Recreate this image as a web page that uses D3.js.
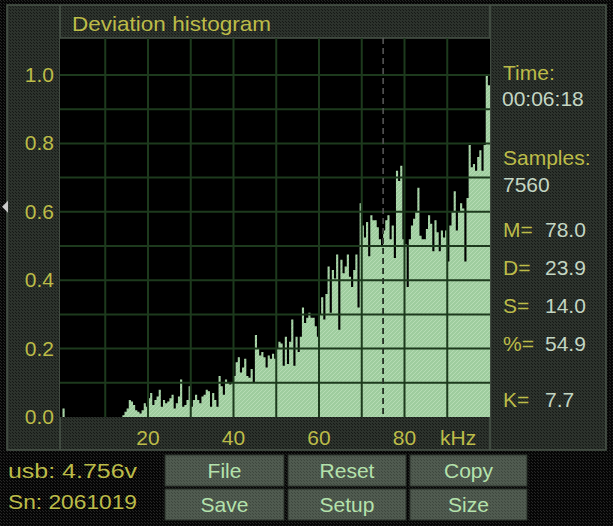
<!DOCTYPE html>
<html><head><meta charset="utf-8">
<script src="https://cdn.jsdelivr.net/npm/d3@7/dist/d3.min.js"></script>
<style>html,body{margin:0;padding:0;background:#050505;overflow:hidden}</style>
</head><body>
<script>
// ---- data ----
const title = "Deviation histogram";
const binWidth = 0.5; // kHz
const histValues = [
0.025,0,0,0,0,0,0,0,0,0,
0,0,0,0,0,0,0,0,0,0,
0,0,0,0,0,0,0,0,0.005,0.015,
0.025,0.05,0.045,0.035,0.02,0.015,0.01,0.02,0.04,0.03,
0.055,0.07,0.035,0.05,0.06,0.08,0.03,0.05,0.04,0.045,
0.055,0.065,0.025,0.04,0.06,0.11,0.03,0.035,0.05,0.09,
0.03,0.05,0.065,0.05,0.04,0.06,0.065,0.08,0.075,0.03,
0.07,0.05,0.03,0.12,0.09,0.065,0.11,0.1,0.095,0.1,
0.12,0.16,0.175,0.13,0.145,0.17,0.12,0.115,0.14,0.1,
0.24,0.2,0.18,0.19,0.175,0.145,0.18,0.17,0.185,0.17,
0.2,0.22,0.215,0.15,0.235,0.155,0.22,0.285,0.15,0.235,
0.19,0.235,0.32,0.275,0.29,0.305,0.29,0.29,0.265,0.235,
0.3,0.35,0.285,0.36,0.44,0.305,0.43,0.405,0.475,0.255,
0.46,0.42,0.44,0.475,0.41,0.38,0.43,0.475,0.32,0.625,
0.56,0.525,0.57,0.47,0.59,0.575,0.575,0.555,0.52,0.5,
0.545,0.575,0.59,0.52,0.56,0.465,0.72,0.69,0.735,0.52,
0.505,0.38,0.52,0.56,0.58,0.6,0.67,0.53,0.52,0.52,
0.55,0.59,0.565,0.485,0.575,0.54,0.485,0.545,0.525,0.545,
0.455,0.56,0.6,0.66,0.545,0.6,0.625,0.61,0.455,0.64,
0.795,0.73,0.74,0.72,0.76,0.78,0.72,0.795,1.0,0.97
];
const xDomain = [0, 100];
const yDomain = [0, 1];
const xTickValues = [20, 40, 60, 80];
const xUnit = "kHz";
const yTickValues = [0, 0.2, 0.4, 0.6, 0.8, 1.0];
const xGridValues = [10, 20, 30, 40, 50, 60, 70, 80, 90];
const yGridValues = [0.1, 0.2, 0.3, 0.4, 0.5, 0.6, 0.7, 0.8, 0.9, 1.0];
const markerValue = 75; // dashed marker (kHz)
const timeLabel = "Time:", timeValue = "00:06:18";
const samplesLabel = "Samples:", samplesValue = "7560";
const statLabels = ["M=", "D=", "S=", "%=", "K="];
const statValues = ["78.0", "23.9", "14.0", "54.9", "7.7"];
const infoLines = ["usb: 4.756v", "Sn: 2061019"];
const buttonLabels = [["File", "Reset", "Copy"], ["Save", "Setup", "Size"]];

// ---- drawing ----
const W = 613, H = 526;
const YELLOW = "#bcbc48", LIGHT = "#c3d6c3", BTN_TXT = "#b4e2ac";
const FONT = "'Liberation Sans', Arial, sans-serif";
const svg = d3.select("body").append("svg").attr("width", W).attr("height", H);
const defs = svg.append("defs");

function dotPattern(id, base, dot, size) {
  const p = defs.append("pattern").attr("id", id).attr("patternUnits", "userSpaceOnUse")
    .attr("width", size).attr("height", size);
  p.append("rect").attr("width", size).attr("height", size).attr("fill", base);
  p.append("rect").attr("width", 1).attr("height", 1).attr("fill", dot);
  p.append("rect").attr("x", Math.floor(size/2)).attr("y", Math.floor(size/2)).attr("width", 1).attr("height", 1).attr("fill", dot);
}
dotPattern("bgDots", "#060606", "#262626", 3);
dotPattern("panelDots", "#2c322c", "#161916", 3);
dotPattern("btnDots", "#505b50", "#3e473e", 3);
const hp = defs.append("pattern").attr("id", "hatch").attr("patternUnits", "userSpaceOnUse")
  .attr("width", 4).attr("height", 4);
hp.append("rect").attr("width", 4).attr("height", 4).attr("fill", "#9fcd9f");
hp.append("path").attr("d", "M0,4 L4,0 M-1,1 L1,-1 M3,5 L5,3").attr("stroke", "#b6dcb4").attr("stroke-width", 1);

// background
svg.append("rect").attr("width", W).attr("height", H).attr("fill", "url(#bgDots)");
// main panel
svg.append("rect").attr("x", 7).attr("y", 5).attr("width", 599).attr("height", 445)
  .attr("fill", "url(#panelDots)").attr("stroke", "#4a564a").attr("stroke-width", 1.5);

const plot = {left: 60, right: 490, top: 38, bottom: 417};
const x = d3.scaleLinear().domain(xDomain).range([62.5, 490]);
const y = d3.scaleLinear().domain(yDomain).range([417, 75]);

// dividers
svg.append("line").attr("x1", plot.left).attr("x2", plot.left).attr("y1", 5).attr("y2", 450).attr("stroke", "#4a564a").attr("stroke-width", 1.5);
svg.append("line").attr("x1", plot.right).attr("x2", plot.right).attr("y1", 5).attr("y2", 450).attr("stroke", "#4a564a").attr("stroke-width", 1.5);

// plot background
svg.append("rect").attr("x", plot.left).attr("y", plot.top).attr("width", plot.right - plot.left)
  .attr("height", plot.bottom - plot.top).attr("fill", "#000");
svg.append("line").attr("x1", plot.left).attr("x2", plot.right).attr("y1", plot.top).attr("y2", plot.top).attr("stroke", "#4a564a").attr("stroke-width", 1.5);

const clip = defs.append("clipPath").attr("id", "plotClip");
clip.append("rect").attr("x", plot.left).attr("y", plot.top).attr("width", plot.right - plot.left).attr("height", plot.bottom - plot.top);

// histogram as step area
const pts = histValues.map((v, i) => [i * binWidth, v]);
pts.push([histValues.length * binWidth, histValues[histValues.length - 1]]);
const area = d3.area().curve(d3.curveStepAfter).x(d => x(d[0])).y0(y(0)).y1(d => y(d[1]));
const g = svg.append("g").attr("clip-path", "url(#plotClip)");
g.append("path").attr("d", area(pts)).attr("fill", "url(#hatch)");
const histClip = defs.append("clipPath").attr("id", "histClip");
histClip.append("path").attr("d", area(pts));

// grid
g.selectAll("line.vg").data(xGridValues).join("line").attr("class", "vg")
  .attr("x1", d => x(d)).attr("x2", d => x(d)).attr("y1", plot.top).attr("y2", plot.bottom)
  .attr("stroke", "#1d3a1d").attr("stroke-width", 2);
g.selectAll("line.hg").data(yGridValues).join("line").attr("class", "hg")
  .attr("x1", plot.left).attr("x2", plot.right).attr("y1", d => y(d)).attr("y2", d => y(d))
  .attr("stroke", "#1d3a1d").attr("stroke-width", 2);

// dashed marker
g.append("line").attr("x1", x(markerValue)).attr("x2", x(markerValue)).attr("y1", plot.top).attr("y2", plot.bottom)
  .attr("stroke", "#5a5a5a").attr("stroke-width", 1.5).attr("stroke-dasharray", "6,4");
svg.append("g").attr("clip-path", "url(#histClip)").append("line")
  .attr("x1", x(markerValue)).attr("x2", x(markerValue)).attr("y1", plot.top).attr("y2", plot.bottom)
  .attr("stroke", "#1a2a1a").attr("stroke-width", 1.5).attr("stroke-dasharray", "6,4");

// title
svg.append("text").attr("x", 72).attr("y", 31).attr("fill", YELLOW).attr("font-family", FONT)
  .attr("font-size", 21).attr("textLength", 199).attr("lengthAdjust", "spacingAndGlyphs").text(title);

// y ticks
svg.selectAll("text.yt").data(yTickValues).join("text").attr("class", "yt")
  .attr("x", 54).attr("y", d => y(d) + 7).attr("text-anchor", "end")
  .attr("fill", YELLOW).attr("font-family", FONT).attr("font-size", 21).text(d => d3.format(".1f")(d));
// x ticks
svg.selectAll("text.xt").data(xTickValues).join("text").attr("class", "xt")
  .attr("x", d => x(d)).attr("y", 445).attr("text-anchor", "middle")
  .attr("fill", YELLOW).attr("font-family", FONT).attr("font-size", 21).text(d => d);
svg.append("text").attr("x", 440).attr("y", 445).attr("fill", YELLOW).attr("font-family", FONT)
  .attr("font-size", 21).text(xUnit);

// left marker triangle
svg.append("path").attr("d", `M2,${y(0.6)-5} L8,${y(0.6)-11} L8,${y(0.6)+1} Z`).attr("fill", "#c8c8c8");

// right panel
const rp = svg.append("g").attr("font-family", FONT).attr("font-size", 21);
rp.append("text").attr("x", 503).attr("y", 80).attr("fill", YELLOW).text(timeLabel);
rp.append("text").attr("x", 502).attr("y", 106).attr("fill", LIGHT).text(timeValue);
rp.append("text").attr("x", 503).attr("y", 165).attr("fill", YELLOW).text(samplesLabel);
rp.append("text").attr("x", 503).attr("y", 192).attr("fill", LIGHT).text(samplesValue);
const statY = [237, 275, 313, 351, 407];
statLabels.forEach((l, i) => {
  rp.append("text").attr("x", 503).attr("y", statY[i]).attr("fill", YELLOW).text(l);
  rp.append("text").attr("x", 545).attr("y", statY[i]).attr("fill", LIGHT).text(statValues[i]);
});

// info lines
infoLines.forEach((t, i) => {
  svg.append("text").attr("x", 8).attr("y", 478 + i * 31).attr("fill", YELLOW).attr("font-family", FONT)
    .attr("font-size", 20).attr("textLength", 129).attr("lengthAdjust", "spacingAndGlyphs").text(t);
});

// buttons
const btnX = [165, 288, 410], btnW = [119, 118, 117], btnY = [455, 489], btnH = 31;
buttonLabels.forEach((row, r) => row.forEach((lab, c) => {
  svg.append("rect").attr("x", btnX[c]).attr("y", btnY[r]).attr("width", btnW[c]).attr("height", btnH)
    .attr("fill", "url(#btnDots)").attr("stroke", "#2a322a").attr("stroke-width", 1);
  svg.append("text").attr("x", btnX[c] + btnW[c] / 2).attr("y", btnY[r] + 23).attr("text-anchor", "middle")
    .attr("fill", BTN_TXT).attr("font-family", FONT).attr("font-size", 21).text(lab);
}));
</script>
</body></html>
